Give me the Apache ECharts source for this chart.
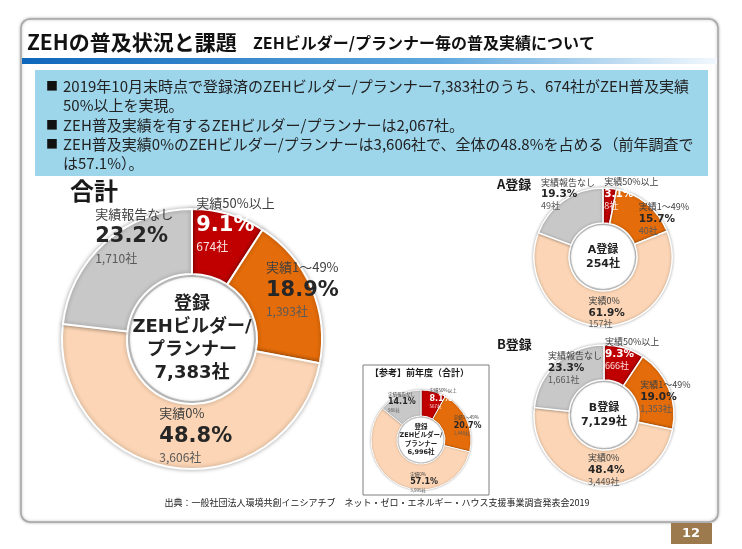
<!DOCTYPE html>
<html>
<head>
<meta charset="utf-8">
<script src="https://cdn.jsdelivr.net/npm/echarts@6/dist/echarts.min.js"></script>
<style>
html,body{margin:0;padding:0;background:#fff;}
#chart{width:742px;height:549px;}
</style>
</head>
<body>
<div id="chart"></div>
<script>
// categories and values (companies / share)
var categories = ['実績50%以上', '実績1～49%', '実績0%', '実績報告なし'];
var totalCounts = [674, 1393, 3606, 1710];
var totalPct = [9.1, 18.9, 48.8, 23.2];
var aCounts = [8, 40, 157, 49];
var aPct = [3.1, 15.7, 61.9, 19.3];
var bCounts = [666, 1353, 3449, 1661];
var bPct = [9.3, 19.0, 48.4, 23.3];
var prevCounts = [567, 1448, 3995, 986];
var prevPct = [8.1, 20.7, 57.1, 14.1];

var colors = ['#c00000', '#e46c0a', '#fbd5b5', '#c8c8c8'];
var JP = '"Noto Sans CJK JP", sans-serif';
var NUM = '"DejaVu Sans", "Noto Sans CJK JP", sans-serif';

function fmt(n) { return n.toLocaleString('en-US'); }
function sum(a) { var s = 0; for (var i = 0; i < a.length; i++) s += a[i]; return s; }

function donut(counts, pct, center, radius, s, offs, centerText) {
	var ring = {
		type: 'pie', center: center, radius: radius, startAngle: 90,
		silent: true, animation: false, avoidLabelOverlap: false, z: 2,
		itemStyle: { borderColor: '#fff', borderWidth: s.border, shadowBlur: s.shadow, shadowColor: 'rgba(0,0,0,0.3)' },
		label: {
			show: true, position: 'inside',
			formatter: function (p) {
				var i = p.dataIndex, w = i === 0 ? 'w' : '';
				return '{c|' + p.name + '}\n{p' + w + '|' + pct[i].toFixed(1) + '%}\n{n' + w + '|' + fmt(counts[i]) + '社}';
			},
			rich: {
				c: { fontSize: s.c, fontFamily: JP, color: '#404040', align: 'left', lineHeight: s.clh },
				p: { fontSize: s.p, fontFamily: NUM, fontWeight: 'bold', color: '#262626', align: 'left', lineHeight: s.plh },
				pw: { fontSize: s.p, fontFamily: NUM, fontWeight: 'bold', color: '#fff', align: 'left', lineHeight: s.plh },
				n: { fontSize: s.n, fontFamily: JP, color: '#595959', align: 'left', lineHeight: s.nlh },
				nw: { fontSize: s.n, fontFamily: JP, color: '#fbe3e3', align: 'left', lineHeight: s.nlh }
			}
		},
		labelLine: { show: false },
		labelLayout: function (p) {
			var o = offs[p.dataIndex];
			return { dx: o[0], dy: o[1] };
		},
		data: categories.map(function (c, i) {
			return { name: c, value: counts[i], itemStyle: { color: colors[i] } };
		})
	};
	var disc = {
		type: 'pie', center: center, radius: [0, radius[0] - s.gap], silent: true, animation: false, z: 1,
		itemStyle: { color: '#fff', shadowBlur: s.shadow * 2, shadowColor: 'rgba(0,0,0,0.45)' },
		label: {
			show: true, position: 'center', formatter: centerText,
			fontFamily: NUM, fontWeight: 'bold', fontSize: s.cf, lineHeight: s.cflh, color: '#222'
		},
		labelLine: { show: false },
		data: [{ value: 1, name: '' }]
	};
	return [ring, disc];
}

var bigStyle = { c: 13, clh: 20, p: 21, plh: 26, n: 12, nlh: 16, border: 2, shadow: 4, gap: 3, cf: 18, cflh: 23 };
var midStyle = { c: 9, clh: 12, p: 10.5, plh: 13, n: 9, nlh: 9, border: 1.5, shadow: 3, gap: 2, cf: 11, cflh: 14 };
var smallStyle = { c: 4.5, clh: 7, p: 8, plh: 10, n: 4.5, nlh: 6, border: 1, shadow: 2, gap: 1.5, cf: 6.5, cflh: 8.5 };

var series = [].concat(
	donut(totalCounts, totalPct, [192, 339], [65, 130], bigStyle,
		[[15, -19], [18, -11], [19, -4], [9, -29]],
		'登録\nZEHビルダー/\nプランナー\n' + fmt(sum(totalCounts)) + '社'),
	donut(aCounts, aPct, [603, 257], [34, 69], midStyle,
		[[23, -10], [26, 3], [3, 0], [-4, -19]],
		'A登録\n' + fmt(sum(aCounts)) + '社'),
	donut(bCounts, bPct, [604, 415], [35, 70], midStyle,
		[[12, -9], [10, 2], [11, -1], [8, -7]],
		'B登録\n' + fmt(sum(bCounts)) + '社'),
	donut(prevCounts, prevPct, [421, 440], [24, 50], smallStyle,
		[[12, -3], [10, 1], [21, 6], [-2, -2]],
		'登録\nZEHビルダー/\nプランナー\n' + fmt(sum(prevCounts)) + '社')
);

var bulletLines = [
	['■', '2019年10月末時点で登録済のZEHビルダー/プランナー' + fmt(sum(totalCounts)) + '社のうち、' + fmt(totalCounts[0]) + '社がZEH普及実績'],
	['', '50%以上を実現。'],
	['■', 'ZEH普及実績を有するZEHビルダー/プランナーは' + fmt(totalCounts[0] + totalCounts[1]) + '社。'],
	['■', 'ZEH普及実績0%のZEHビルダー/プランナーは' + fmt(totalCounts[2]) + '社で、全体の' + totalPct[2].toFixed(1) + '%を占める（前年調査で'],
	['', 'は' + prevPct[2].toFixed(1) + '%）。']
];
var bulletY = [86, 105, 125, 144, 163];

function txt(x, y, text, font, fill, align) {
	return { type: 'text', x: x, y: y, silent: true, z: 5,
		style: { text: text, font: font, fill: fill || '#222', align: align || 'left', verticalAlign: 'middle' } };
}

var graphic = [
	{ type: 'rect', z: 0, silent: true, shape: { x: 21, y: 19, width: 697, height: 503, r: 9 },
		style: { fill: '#fff', stroke: '#a6a6a6', lineWidth: 1.5, shadowBlur: 3, shadowColor: 'rgba(0,0,0,0.3)' } },
	{ type: 'rect', z: 1, silent: true, shape: { x: 22, y: 58, width: 695, height: 6 },
		style: { fill: new echarts.graphic.LinearGradient(0, 0, 1, 0, [
			{ offset: 0, color: '#0f67bb' }, { offset: 0.6, color: '#5fa8de' }, { offset: 1, color: '#f2f8fd' }]) } },
	{ type: 'rect', z: 1, silent: true, shape: { x: 35, y: 70, width: 673, height: 106 }, style: { fill: '#9dd5eb' } },
	txt(27, 42, 'ZEHの普及状況と課題', 'bold 21px ' + JP, '#111'),
	txt(253, 43, 'ZEHビルダー/プランナー毎の普及実績について', 'bold 16px ' + JP, '#111'),
	txt(70, 191, '合計', 'bold 24px ' + JP, '#1a1a1a'),
	txt(497, 184, 'A登録', 'bold 13px ' + JP, '#1a1a1a'),
	txt(497, 344, 'B登録', 'bold 13px ' + JP, '#1a1a1a'),
	{ type: 'rect', z: 0, silent: true, shape: { x: 363, y: 365, width: 126, height: 130 },
		style: { fill: '#fff', stroke: '#7f7f7f', lineWidth: 1 } },
	txt(370, 373, '【参考】前年度（合計）', 'bold 9px ' + JP, '#1a1a1a'),
	txt(377, 503, '出典：一般社団法人環境共創イニシアチブ　ネット・ゼロ・エネルギー・ハウス支援事業調査発表会2019', '9px ' + JP, '#222', 'center'),
	{ type: 'rect', z: 1, silent: true, shape: { x: 671, y: 523, width: 41, height: 21 }, style: { fill: '#9c7a4d' } },
	txt(691, 534, '12', 'bold 13px ' + NUM, '#fff', 'center')
];
bulletLines.forEach(function (l, i) {
	if (l[0]) graphic.push(txt(46, bulletY[i], l[0], '12px ' + JP, '#111'));
	graphic.push(txt(63, bulletY[i], l[1], '15px ' + JP, '#222'));
});

var chart = echarts.init(document.getElementById('chart'));
chart.setOption({
	animation: false,
	backgroundColor: '#fff',
	graphic: graphic,
	series: series
});
</script>
</body>
</html>
